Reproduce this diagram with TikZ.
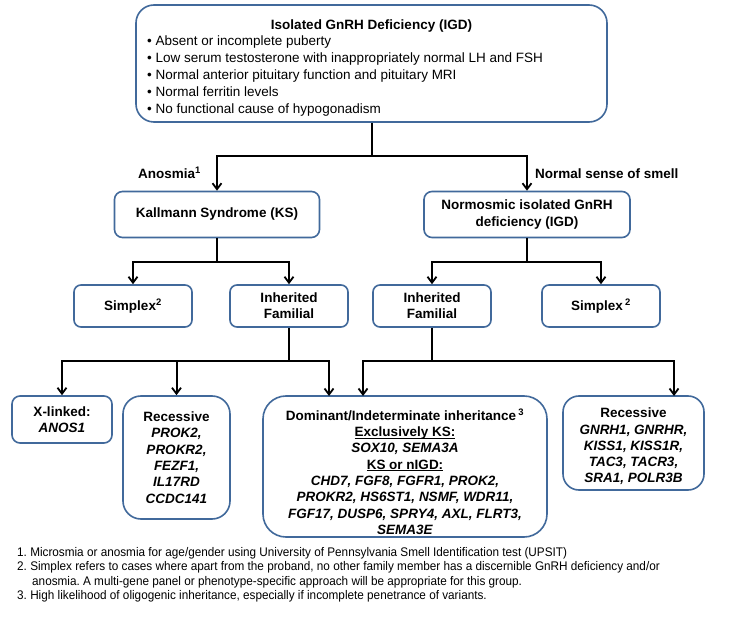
\documentclass[tikz,border=0pt]{standalone}
\usepackage{fontspec}
\setmainfont{Liberation Sans}
\newfontfamily\fnfont[FakeStretch=0.94]{Liberation Sans}
\usetikzlibrary{arrows.meta}
\definecolor{bordc}{RGB}{65,105,155}
\newcommand\ulin[1]{\setbox0\hbox{#1}\rlap{\rule[-2.3pt]{\wd0}{1.1pt}}\box0}
\frenchspacing
\begin{document}
\begin{tikzpicture}[x=1pt,y=-1pt,
  gbox/.style={draw=bordc, line width=1.6pt, fill=white, rounded corners=#1, inner sep=0pt, align=center,
    font=\fontsize{13.5}{16.3}\selectfont\bfseries},
  gbox/.default=7pt,
  txt/.style={inner sep=0pt, align=center, font=\fontsize{13.5}{16.3}\selectfont\bfseries},
  btxt/.style={inner sep=0pt, anchor=base west, font=\fontsize{13.5}{16.3}\selectfont},
  fn/.style={inner sep=0pt, anchor=base west, font=\fnfont\fontsize{12.5}{14}\selectfont},
  conn/.style={line width=2pt, black},
  arr/.style={conn, -{Straight Barb[length=6pt,width=9pt,line width=1.8pt]}}
]
\fill[white] (0,0) rectangle (742,639);
\useasboundingbox (0,0) rectangle (742,639);

% top box
\node[gbox=18pt, minimum width=471pt, minimum height=117pt] (top) at (371.5,63.5) {};
\node[txt, anchor=base] (title) at (371.5,30) {Isolated GnRH Deficiency (IGD)};
\node[btxt] (b1) at (147,45.5) {\textbullet\ Absent or incomplete puberty};
\node[btxt] (b2) at (147,62.5) {\textbullet\ Low serum testosterone with inappropriately normal LH and FSH};
\node[btxt] (b3) at (147,79.5) {\textbullet\ Normal anterior pituitary function and pituitary MRI};
\node[btxt] (b4) at (147,96.5) {\textbullet\ Normal ferritin levels};
\node[btxt] (b5) at (147,113.5) {\textbullet\ No functional cause of hypogonadism};

% level 1
\node[gbox=8pt, minimum width=205pt, minimum height=46pt] (ks) at (217,214.5) {Kallmann Syndrome (KS)};
\node[gbox=8pt, minimum width=206pt, minimum height=46pt] (nigd) at (527,214.5) {Normosmic isolated GnRH\\deficiency (IGD)};
\node[txt, anchor=base east] (anos) at (201,179) {Anosmia\textsuperscript{1}};
\node[txt, anchor=base west] (smell) at (535,179) {Normal sense of smell};

% level 2
\node[gbox=7pt, minimum width=118pt, minimum height=42pt] (simL) at (133,306) {Simplex\textsuperscript{2}};
\node[gbox=7pt, minimum width=118pt, minimum height=42pt] (inhL) at (289,306) {Inherited\\Familial};
\node[gbox=7pt, minimum width=118pt, minimum height=42pt] (inhR) at (432,306) {Inherited\\Familial};
\node[gbox=7pt, minimum width=118pt, minimum height=42pt] (simR) at (601,306) {Simplex\,\textsuperscript{2}};

% level 3
\node[gbox=8pt, minimum width=100pt, minimum height=47pt] (xl) at (62,419.5) {X-linked:\\\textit{ANOS1}};
\node[gbox=18pt, minimum width=107pt, minimum height=123pt] (recL) at (176.5,457.5)
  {Recessive\\\textit{PROK2,}\\\textit{PROKR2,}\\\textit{FEZF1,}\\\textit{IL17RD}\\\textit{CCDC141}};
\node[gbox=23pt, minimum width=284pt, minimum height=141pt] (dom) at (405,466.5) {};
\node[txt] (domt) at (405,471.5) {Dominant/Indeterminate inheritance\,\textsuperscript{3}\\
  \ulin{Exclusively KS:}\\
  \textit{SOX10, SEMA3A}\\
  \ulin{KS or nIGD:}\\
  \textit{CHD7, FGF8, FGFR1, PROK2,}\\
  \textit{PROKR2, HS6ST1, NSMF, WDR11,}\\
  \textit{FGF17, DUSP6, SPRY4, AXL, FLRT3,}\\
  \textit{SEMA3E}};
\node[gbox=16pt, minimum width=141pt, minimum height=94pt] (recR) at (633.5,443) {};
\node[txt] (recRt) at (633.5,446.5)
  {Recessive\\\textit{GNRH1, GNRHR,}\\\textit{KISS1, KISS1R,}\\\textit{TAC3, TACR3,}\\\textit{SRA1, POLR3B}};

% junctions
\coordinate (j1) at (371.5,156);
\coordinate (j2) at (217,262);
\coordinate (j3) at (527,262);
\coordinate (j4) at (289,361);
\coordinate (j5) at (432,361);
\coordinate (domA) at (329,396);
\coordinate (domB) at (363,396);
\coordinate (recRa) at (674,396);

\draw[conn] (top.south) -- (j1);
\draw[arr] (j1) -| (ks.north);
\draw[arr] (j1) -| (nigd.north);
\draw[conn] (ks.south) -- (j2);
\draw[arr] (j2) -| (simL.north);
\draw[arr] (j2) -| (inhL.north);
\draw[conn] (nigd.south) -- (j3);
\draw[arr] (j3) -| (inhR.north);
\draw[arr] (j3) -| (simR.north);
\draw[conn] (inhL.south) -- (j4);
\draw[arr] (j4) -| (xl.north);
\draw[arr] (j4) -| (recL.north);
\draw[arr] (j4) -| (domA);
\draw[conn] (inhR.south) -- (j5);
\draw[arr] (j5) -| (domB);
\draw[arr] (j5) -| (recRa);

% footnotes
\node[fn] (f1) at (17,556) {1. Microsmia or anosmia for age/gender using University of Pennsylvania Smell Identification test (UPSIT)};
\node[fn] (f2) at (17,570.5) {2. Simplex refers to cases where apart from the proband, no other family member has a discernible GnRH deficiency and/or};
\node[fn] (f2b) at (32,585) {anosmia. A multi-gene panel or phenotype-specific approach will be appropriate for this group.};
\node[fn] (f3) at (17,599.5) {3. High likelihood of oligogenic inheritance, especially if incomplete penetrance of variants.};
\end{tikzpicture}
\end{document}
